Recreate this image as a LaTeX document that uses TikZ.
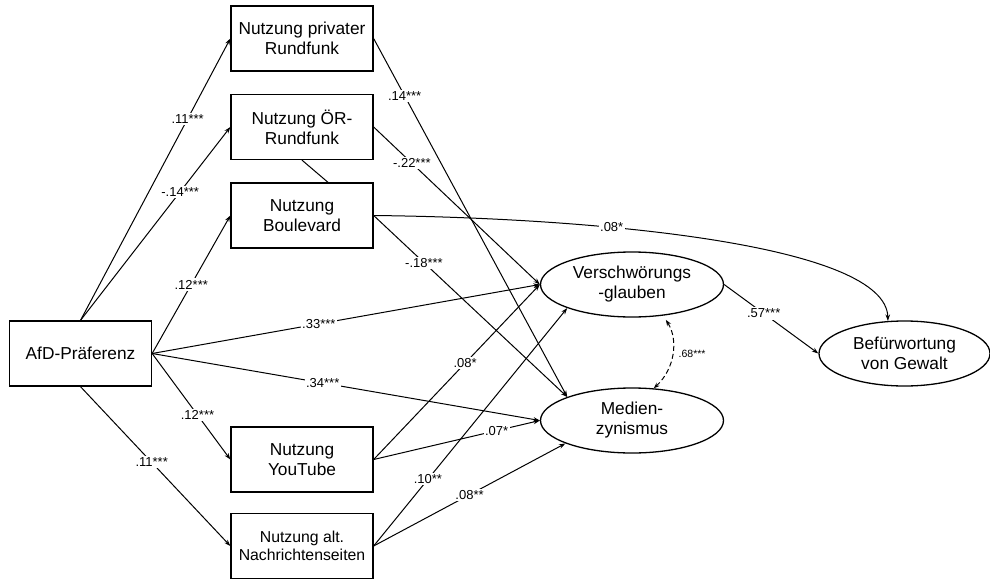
\documentclass[tikz,border=0pt]{standalone}
\usepackage{fontspec}
\setmainfont{Liberation Sans}
\usetikzlibrary{arrows.meta,shapes.geometric}
\begin{document}
\begin{tikzpicture}[x=1pt,y=-1pt,
  box/.style={draw, line width=1.3pt, minimum width=142pt, minimum height=65pt, inner sep=0pt, align=center, font=\fontsize{17.3}{20}\selectfont},
  oval/.style={draw, ellipse, line width=1.3pt, minimum width=183pt, minimum height=65pt, inner sep=0pt, align=center, font=\fontsize{17.3}{20}\selectfont},
  conn/.style={line width=1pt, -{Stealth[length=6.5pt,width=4.5pt]}},
  lab/.style={fill=white, inner sep=1.5pt, font=\fontsize{13}{15}\selectfont},
]
\useasboundingbox (0,0) rectangle (990,578);
\fill[white] (0,0) rectangle (990,578);

\node[box] (afd) at (80.5,353.5) {AfD-Präferenz};
\node[box] (priv) at (302,38.5) {Nutzung privater\\Rundfunk};
\node[box] (oer) at (302,127) {Nutzung ÖR-\\Rundfunk};
\node[box] (boul) at (302,215.5) {Nutzung\\Boulevard};
\node[box] (yt) at (302,459.5) {Nutzung\\YouTube};
\node[box, font=\fontsize{15.8}{18}\selectfont] (alt) at (302,546) {Nutzung alt.\\Nachrichtenseiten};
\node[oval] (vers) at (632,284.5) {Verschwörungs\\-glauben};
\node[oval] (med) at (632,420.5) {Medien-\\zynismus};
\node[oval, minimum width=171pt] (bef) at (904.5,353.5) {Befürwortung\\von Gewalt};

% AfD paths
\draw[conn] (afd.north) -- node[lab,pos=0.715]{.11***} (priv.west);
\draw[conn] (afd.north) -- node[lab,pos=0.665]{-.14***} (oer.west);
\draw[conn] (afd.east) -- node[lab,pos=0.5]{.12***} (boul.west);
\draw[conn] (afd.east) -- node[lab,pos=0.43]{.33***} (vers.west);
\draw[conn] (afd.east) -- node[lab,pos=0.44]{.34***} (med.west);
\draw[conn] (afd.east) -- node[lab,pos=0.58]{.12***} (yt.west);
\draw[conn] (afd.south) -- node[lab,pos=0.475]{.11***} (alt.west);

% media use paths
\draw[line width=1pt] (oer.south) -- ([xshift=26pt]boul.north);
\draw[conn] (priv.east) -- node[lab,pos=0.16]{.14***} (med.160);
\draw[conn] (oer.east) -- node[lab,pos=0.23]{-.22***} (vers.west);
\draw[conn] (boul.east) -- node[lab,pos=0.26]{-.18***} (med.160);
\draw[conn] (boul.east) .. controls (600,218) and (886,245) .. node[lab,pos=0.34]{.08*} (bef.117);
\draw[conn] (yt.east) -- node[lab,pos=0.55]{.08*} (vers.west);
\draw[conn] (yt.east) -- node[lab,pos=0.74]{.07*} (med.west);
\draw[conn] (alt.east) -- node[lab,pos=0.28]{.10**} (vers.200);
\draw[conn] (alt.east) -- node[lab,pos=0.5]{.08**} (med.199);

% outcomes
\draw[conn] (vers.east) -- node[lab,pos=0.42]{.57***} (bef.west);
\draw[line width=1pt, dash pattern=on 5pt off 3pt, {Stealth[length=6pt,width=4.5pt]}-{Stealth[length=6pt,width=4.5pt]}, shorten <=5pt]
  (vers.315) to[bend left=40] node[pos=0.5, right=5pt, font=\fontsize{10.5}{12}\selectfont, inner sep=1pt]{.68***} (med.56);
\end{tikzpicture}
\end{document}
